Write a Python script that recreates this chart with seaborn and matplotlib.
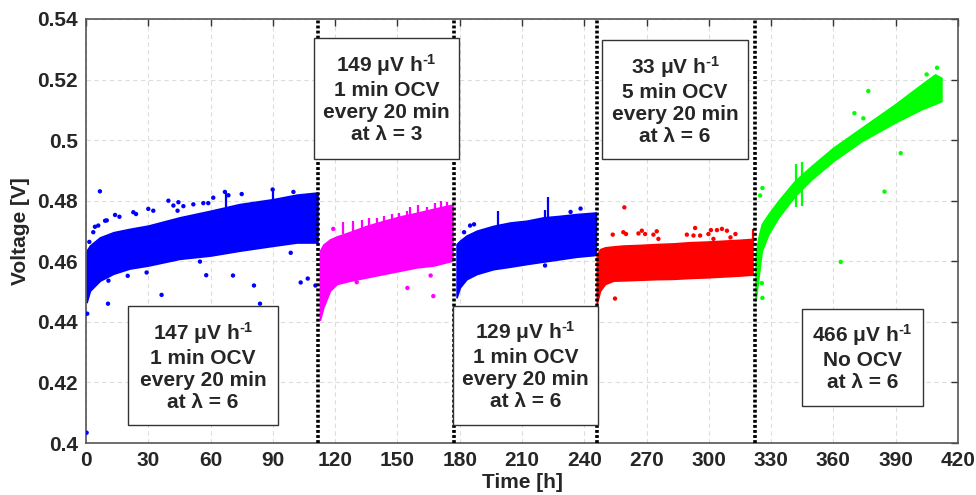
import numpy as np
import pandas as pd
import matplotlib
matplotlib.use("Agg")
import matplotlib.pyplot as plt
from matplotlib.patches import Rectangle
import seaborn as sns

# ---------------- data ----------------
seg_names = ["s1", "s2", "s3", "s4", "s5"]
seg_colors = ["#0000FF", "#FF00FF", "#0000FF", "#FF0000", "#00FF00"]

# dense band envelopes (time [h], lower / upper voltage [V])
s1_t = [0.3, 1.9, 6.7, 13.2, 21, 30, 45, 60, 74, 90, 101.5, 111.5]
s1_hi = [0.4635, 0.4652, 0.4679, 0.4696, 0.4707, 0.4718, 0.4745, 0.4767, 0.4789, 0.4805, 0.4820, 0.4827]
s1_lo = [0.4465, 0.4503, 0.4536, 0.4559, 0.4576, 0.4586, 0.4608, 0.4619, 0.4635, 0.4651, 0.4662, 0.4662]

s2_t = [112.7, 114.3, 117.5, 120.8, 127.2, 135.2, 143.2, 151.3, 159.3, 167.3, 176.5]
s2_hi = [0.4635, 0.4655, 0.4672, 0.4682, 0.4697, 0.4717, 0.4733, 0.4748, 0.4760, 0.4773, 0.4787]
s2_lo = [0.4407, 0.4448, 0.4503, 0.4525, 0.4536, 0.4547, 0.4558, 0.4569, 0.4580, 0.4586, 0.4602]

s3_t = [178.5, 180.1, 183.3, 188.2, 196.2, 204.2, 212.3, 220.3, 228.3, 236.3, 245.6]
s3_hi = [0.4657, 0.4668, 0.4685, 0.4701, 0.4717, 0.4728, 0.4734, 0.4745, 0.4750, 0.4756, 0.4761]
s3_lo = [0.4481, 0.4514, 0.4541, 0.4558, 0.4574, 0.4582, 0.4591, 0.4599, 0.4607, 0.4615, 0.4621]

s4_t = [246.0, 247.6, 250.0, 254.0, 258.8, 266.8, 274.9, 282.9, 290.9, 299.0, 307.0, 315.0, 321.0]
s4_hi = [0.4620, 0.4640, 0.4646, 0.4649, 0.4652, 0.4654, 0.4657, 0.4659, 0.4663, 0.4665, 0.4668, 0.4671, 0.4674]
s4_lo = [0.4460, 0.4503, 0.4525, 0.4536, 0.4537, 0.4539, 0.4541, 0.4542, 0.4545, 0.4547, 0.4550, 0.4553, 0.4556]

s5_t = [322.5, 323.9, 325.5, 328.7, 333.5, 341.5, 349.5, 359.9, 373.6, 389.6, 402.4, 408.9, 412.0]
s5_hi = [0.4620, 0.4679, 0.4723, 0.4756, 0.4800, 0.4866, 0.4915, 0.4975, 0.5041, 0.5118, 0.5184, 0.5217, 0.5206]
s5_lo = [0.4470, 0.4547, 0.4635, 0.4690, 0.4745, 0.4816, 0.4871, 0.4931, 0.4997, 0.5058, 0.5102, 0.5120, 0.5129]

# narrow spikes above / through the bands (time, low, high)
spike_t = [123.9, 128.8, 132.8, 136.5, 140.0, 143.6, 147.2, 150.9, 154.4, 156.1, 160.1, 164.1, 168.1, 171.0, 173.7,
           198.6, 221.1, 222.7, 321.1, 342.0, 345.0, 89.9, 67.5]
spike_lo = [0.4690, 0.4700, 0.4710, 0.4715, 0.4720, 0.4730, 0.4735, 0.4745, 0.4750, 0.4752, 0.4755, 0.4762, 0.4770, 0.4775, 0.4778,
            0.4715, 0.4740, 0.4740, 0.4660, 0.4778, 0.4783, 0.4800, 0.4780]
spike_hi = [0.4729, 0.4734, 0.4736, 0.4743, 0.4743, 0.4750, 0.4756, 0.4758, 0.4765, 0.4778, 0.4787, 0.4778, 0.4791, 0.4798, 0.4795,
            0.4765, 0.4769, 0.4813, 0.4707, 0.4921, 0.4927, 0.4837, 0.4829]
spike_seg = ["s2"] * 15 + ["s3", "s3", "s3", "s4", "s5", "s5", "s1", "s1"]

# isolated points
pt_t = [6.7, 3.5, 5.9, 9.2, 14.0, 16.1, 22.8, 24.1, 30.0, 32.4, 39.7, 42.1, 44.5, 44.1, 46.9, 51.7, 56.5, 58.9,
        61.3, 66.9, 68.6, 75.0, 89.9, 99.9, 1.6, 4.3, 10.0,
        10.8, 20.1, 29.2, 36.4, 54.9, 57.9, 70.8, 80.9, 83.8, 98.6, 103.4, 106.8, 110.5, 10.6, 0.3, 0.6,
        119.1, 130.4, 154.8, 166.0, 167.3,
        182.1, 185.0, 186.9, 233.4, 238.2, 221.1,
        259.3, 253.7, 258.8, 260.1, 266.1, 267.7, 269.3, 273.3, 274.9, 275.7, 289.4, 293.4, 292.6, 295.8, 299.8,
        301.0, 303.9, 306.3, 308.7, 310.4, 312.8, 302.2, 254.8,
        325.8, 324.7, 325.5, 325.8, 363.5, 370.1, 374.4, 376.8, 384.6, 392.4, 404.9, 409.9]
pt_v = [0.4831, 0.4696, 0.4718, 0.4734, 0.4753, 0.4747, 0.4762, 0.4756, 0.4773, 0.4767, 0.4800, 0.4784, 0.4795, 0.4767,
        0.4782, 0.4788, 0.4792, 0.4792, 0.4810, 0.4829, 0.4818, 0.4822, 0.4837, 0.4829, 0.4664, 0.4714, 0.4735,
        0.4536, 0.4552, 0.4563, 0.4489, 0.4599, 0.4554, 0.4553, 0.4520, 0.4460, 0.4628, 0.4530, 0.4543, 0.4520, 0.4460,
        0.4034, 0.4427,
        0.4707, 0.4531, 0.4512, 0.4553, 0.4485,
        0.4696, 0.4718, 0.4722, 0.4763, 0.4774, 0.4586,
        0.4778, 0.4688, 0.4696, 0.4690, 0.4692, 0.4701, 0.4690, 0.4688, 0.4699, 0.4674, 0.4688, 0.4710, 0.4685, 0.4685,
        0.4690, 0.4703, 0.4703, 0.4707, 0.4701, 0.4679, 0.4690, 0.4674, 0.4477,
        0.4842, 0.4817, 0.4528, 0.4479, 0.4598, 0.5089, 0.5072, 0.5162, 0.4830, 0.4957, 0.5217, 0.5239]
pt_seg = (["s1"] * 43 + ["s2"] * 5 + ["s3"] * 6 + ["s4"] * 23 + ["s5"] * 12)

# segment boundaries (dotted lines)
boundaries = [111.9, 177.4, 246.0, 322.2]

# annotation boxes: text, (t_left, t_right, v_bottom, v_top)
box_texts = [
    "147 μV h$^{\\text{-1}}$\n1 min OCV\nevery 20 min\nat λ = 6",
    "149 μV h$^{\\text{-1}}$\n1 min OCV\nevery 20 min\nat λ = 3",
    "129 μV h$^{\\text{-1}}$\n1 min OCV\nevery 20 min\nat λ = 6",
    "33 μV h$^{\\text{-1}}$\n5 min OCV\nevery 20 min\nat λ = 6",
    "466 μV h$^{\\text{-1}}$\nNo OCV\nat λ = 6",
]
box_extents = [
    (20.2, 92.5, 0.4059, 0.4451),
    (109.8, 179.7, 0.4938, 0.5337),
    (176.8, 246.6, 0.4059, 0.4454),
    (248.6, 318.9, 0.4938, 0.5330),
    (344.9, 403.2, 0.4122, 0.4444),
]

x_ticks = list(range(0, 421, 30))
y_ticks = [0.40, 0.42, 0.44, 0.46, 0.48, 0.50, 0.52, 0.54]

# ---------------- styling ----------------
sns.set_theme(style="white")
plt.rcParams["font.family"] = ["Liberation Sans", "DejaVu Sans"]
plt.rcParams["font.weight"] = "bold"
plt.rcParams["mathtext.fontset"] = "custom"
plt.rcParams["mathtext.rm"] = "Liberation Sans:bold"
plt.rcParams["mathtext.bf"] = "Liberation Sans:bold"
plt.rcParams["mathtext.default"] = "bf"

fig = plt.figure(figsize=(9.76, 4.95), dpi=100)
ax = fig.add_axes([86 / 976, 1 - 443 / 495, (958 - 86) / 976, (443 - 19) / 495])

palette = dict(zip(seg_names, seg_colors))

bands = {"s1": (s1_t, s1_lo, s1_hi), "s2": (s2_t, s2_lo, s2_hi), "s3": (s3_t, s3_lo, s3_hi),
         "s4": (s4_t, s4_lo, s4_hi), "s5": (s5_t, s5_lo, s5_hi)}
for name, (t, lo, hi) in bands.items():
    ax.fill_between(t, lo, hi, color=palette[name], linewidth=1.2, edgecolor=palette[name], zorder=2)

for t, lo, hi, s in zip(spike_t, spike_lo, spike_hi, spike_seg):
    ax.vlines(t, lo, hi, color=palette[s], linewidth=1.6, zorder=2)

pts = pd.DataFrame({"t": pt_t, "v": pt_v, "seg": pt_seg})
sns.scatterplot(data=pts, x="t", y="v", hue="seg", palette=palette, s=10, linewidth=0,
                legend=False, ax=ax, zorder=3)

for b in boundaries:
    ax.axvline(b, color="black", linewidth=2.6, linestyle=(0, (0.8, 0.6)), zorder=4)

for txt, (x0, x1, y0, y1) in zip(box_texts, box_extents):
    ax.add_patch(Rectangle((x0, y0), x1 - x0, y1 - y0, facecolor="white", edgecolor="#333333",
                           linewidth=1.0, zorder=5))
    ax.text((x0 + x1) / 2, (y0 + y1) / 2, txt, ha="center", va="center", fontsize=15,
            fontweight="bold", linespacing=1.2, zorder=6)

ax.set_xlim(0, 420)
ax.set_ylim(0.40, 0.54)
ax.set_xticks(x_ticks)
ax.set_yticks(y_ticks)
ax.set_xticklabels([f"{v:g}" for v in x_ticks])
ax.set_yticklabels([f"{v:g}" for v in y_ticks])
ax.tick_params(direction="in", length=5, width=1, top=True, right=True, labelsize=15,
               color="#333333", pad=6)
for lab in ax.get_xticklabels() + ax.get_yticklabels():
    lab.set_fontweight("bold")
ax.grid(True, color="#dddddd", linestyle=(0, (4, 3)), linewidth=0.8, zorder=0)
ax.set_axisbelow(True)
for sp in ax.spines.values():
    sp.set_color("#555555")
    sp.set_linewidth(1.2)

ax.set_xlabel("Time [h]", fontsize=15, fontweight="bold", labelpad=2)
ax.set_ylabel("Voltage [V]", fontsize=15, fontweight="bold", labelpad=5)

fig.savefig("out.png", dpi=100, facecolor="white")
